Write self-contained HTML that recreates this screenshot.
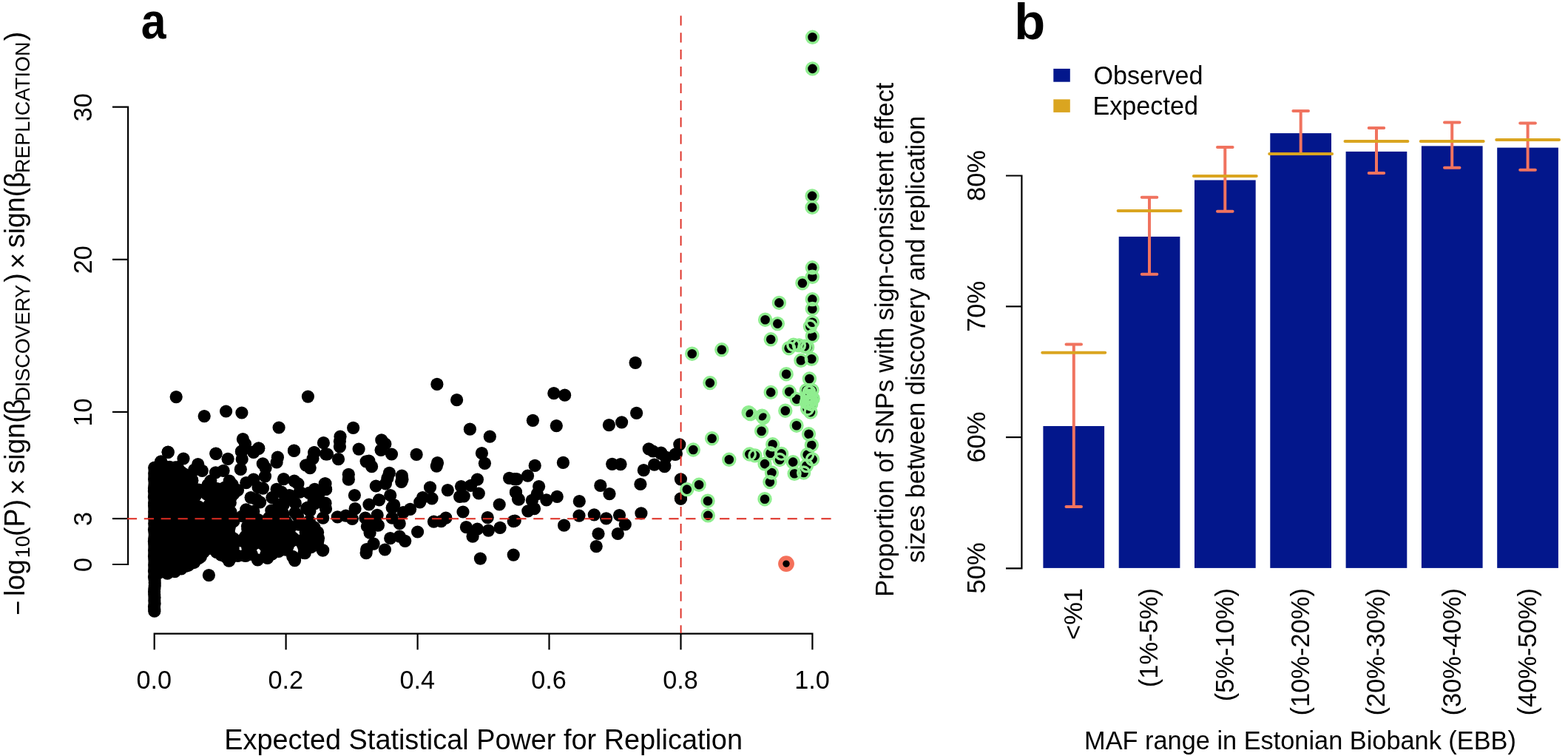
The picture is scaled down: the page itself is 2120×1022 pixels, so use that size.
<!DOCTYPE html>
<html lang="en"><head><meta charset="utf-8"><title>Figure</title>
<style>html,body{margin:0;padding:0;background:#fff}body{width:2120px;height:1022px;overflow:hidden}svg{display:block}text{font-family:"Liberation Sans",Arial,Helvetica,sans-serif;fill:#000}</style>
</head><body>
<svg width="2120" height="1022" viewBox="0 0 2120 1022">
<rect width="2120" height="1022" fill="#fff"/>
<g id="panel-a">
<g stroke="#000" stroke-width="2.2" fill="none" stroke-linecap="butt" stroke-linejoin="miter">
<path d="M152 144.7H173.1V763.0H152"/>
<path d="M152 701.1H173.1"/>
<path d="M152 556.9H173.1"/>
<path d="M152 350.8H173.1"/>
<path d="M208.7 878.3V856.7H1098.4V878.3"/>
<path d="M386.6 856.7V878.3"/>
<path d="M564.6 856.7V878.3"/>
<path d="M742.5 856.7V878.3"/>
<path d="M920.5 856.7V878.3"/>
</g>
<g font-size="34.2" text-anchor="middle">
<text transform="translate(208.3 931.1) scale(1.000 1.040)">0.0</text>
<text transform="translate(386.2 931.1) scale(1.000 1.040)">0.2</text>
<text transform="translate(564.2 931.1) scale(1.000 1.040)">0.4</text>
<text transform="translate(742.1 931.1) scale(1.000 1.040)">0.6</text>
<text transform="translate(920.1 931.1) scale(1.000 1.040)">0.8</text>
<text transform="translate(1098.0 931.1) scale(1.000 1.040)">1.0</text>
<text transform="translate(124.1 763.5) rotate(-90) scale(1.000 1.040)">0</text>
<text transform="translate(124.1 701.6) rotate(-90) scale(1.000 1.040)">3</text>
<text transform="translate(124.1 557.4) rotate(-90) scale(1.000 1.040)">10</text>
<text transform="translate(124.1 351.3) rotate(-90) scale(1.000 1.040)">20</text>
<text transform="translate(124.1 145.2) rotate(-90) scale(1.000 1.040)">30</text>
</g>
<text transform="translate(653.6 1013.4) scale(1.000 1.000)" font-size="37.86" text-anchor="middle">Expected Statistical Power for Replication</text>
<g id="ylab-a">
<text transform="translate(36.7 831.7) rotate(-90) scale(0.912 1.015)" font-size="37.50">−</text>
<text transform="translate(32.9 806.1) rotate(-90) scale(1.000 1.015)" font-size="37.50">log</text>
<text transform="translate(39.9 754.3) rotate(-90) scale(1.000 1.030)" font-size="26.90">10</text>
<text transform="translate(32.9 725.1) rotate(-90) scale(1.000 1.015)" font-size="37.50">(P)</text>
<text transform="translate(36.7 669.3) rotate(-90) scale(1.000 1.015)" font-size="37.50">×</text>
<text transform="translate(32.9 640.6) rotate(-90) scale(1.000 1.015)" font-size="37.50">sign(</text>
<text transform="translate(32.9 560.7) rotate(-90) scale(1.000 1.015)" font-size="37.50">β</text>
<text transform="translate(39.9 542.6) rotate(-90) scale(1.000 1.030)" font-size="26.90">DISCOVERY</text>
<text transform="translate(32.9 381.8) rotate(-90) scale(1.000 1.015)" font-size="37.50">)</text>
<text transform="translate(36.7 363.5) rotate(-90) scale(1.000 1.015)" font-size="37.50">×</text>
<text transform="translate(32.9 335.1) rotate(-90) scale(1.000 1.015)" font-size="37.50">sign(</text>
<text transform="translate(32.9 254.1) rotate(-90) scale(1.000 1.015)" font-size="37.50">β</text>
<text transform="translate(39.9 234.0) rotate(-90) scale(1.000 1.030)" font-size="26.90">REPLICATION</text>
<text transform="translate(32.9 55.3) rotate(-90) scale(1.000 1.015)" font-size="37.50">)</text>
</g>
<text transform="translate(190.8 52.2) scale(0.925 1.035)" font-size="65.70" font-weight="bold">a</text>
<g fill="#000">
<circle cx="213.9" cy="630.9" r="8.6"/><circle cx="220.4" cy="630.1" r="8.6"/><circle cx="223.0" cy="630.7" r="8.6"/><circle cx="229.5" cy="631.3" r="8.6"/><circle cx="236.8" cy="631.8" r="8.6"/><circle cx="240.1" cy="631.5" r="8.6"/><circle cx="210.6" cy="637.2" r="8.6"/><circle cx="213.3" cy="636.6" r="8.6"/><circle cx="221.6" cy="637.1" r="8.6"/><circle cx="226.0" cy="635.9" r="8.6"/><circle cx="228.7" cy="637.2" r="8.6"/><circle cx="234.3" cy="637.2" r="8.6"/><circle cx="241.9" cy="635.6" r="8.6"/><circle cx="244.6" cy="637.8" r="8.6"/><circle cx="216.1" cy="642.6" r="8.6"/><circle cx="218.6" cy="641.9" r="8.6"/><circle cx="225.6" cy="639.6" r="8.6"/><circle cx="231.5" cy="642.9" r="8.6"/><circle cx="233.9" cy="642.8" r="8.6"/><circle cx="239.6" cy="640.9" r="8.6"/><circle cx="247.0" cy="642.3" r="8.6"/><circle cx="248.6" cy="640.7" r="8.6"/><circle cx="210.8" cy="646.5" r="8.6"/><circle cx="214.6" cy="645.4" r="8.6"/><circle cx="218.2" cy="644.5" r="8.6"/><circle cx="223.3" cy="647.0" r="8.6"/><circle cx="229.0" cy="644.7" r="8.6"/><circle cx="233.3" cy="647.4" r="8.6"/><circle cx="241.5" cy="646.7" r="8.6"/><circle cx="244.1" cy="645.0" r="8.6"/><circle cx="249.2" cy="645.8" r="8.6"/><circle cx="253.6" cy="645.8" r="8.6"/><circle cx="259.1" cy="647.8" r="8.6"/><circle cx="209.9" cy="651.7" r="8.6"/><circle cx="216.1" cy="651.5" r="8.6"/><circle cx="220.6" cy="649.3" r="8.6"/><circle cx="223.6" cy="650.0" r="8.6"/><circle cx="231.0" cy="650.2" r="8.6"/><circle cx="235.3" cy="649.0" r="8.6"/><circle cx="238.2" cy="650.1" r="8.6"/><circle cx="245.7" cy="651.8" r="8.6"/><circle cx="250.7" cy="650.2" r="8.6"/><circle cx="255.1" cy="650.9" r="8.6"/><circle cx="259.9" cy="649.5" r="8.6"/><circle cx="284.8" cy="650.1" r="8.6"/><circle cx="209.9" cy="655.4" r="8.6"/><circle cx="214.2" cy="657.0" r="8.6"/><circle cx="221.9" cy="655.0" r="8.6"/><circle cx="225.6" cy="655.2" r="8.6"/><circle cx="230.2" cy="655.6" r="8.6"/><circle cx="233.7" cy="654.6" r="8.6"/><circle cx="238.8" cy="657.6" r="8.6"/><circle cx="245.0" cy="654.9" r="8.6"/><circle cx="251.6" cy="658.0" r="8.6"/><circle cx="254.8" cy="654.6" r="8.6"/><circle cx="258.8" cy="654.4" r="8.6"/><circle cx="281.0" cy="655.7" r="8.6"/><circle cx="284.7" cy="656.1" r="8.6"/><circle cx="311.5" cy="654.9" r="8.6"/><circle cx="314.1" cy="655.0" r="8.6"/><circle cx="211.8" cy="661.8" r="8.6"/><circle cx="214.2" cy="659.1" r="8.6"/><circle cx="220.0" cy="661.7" r="8.6"/><circle cx="224.7" cy="660.0" r="8.6"/><circle cx="230.7" cy="662.7" r="8.6"/><circle cx="233.9" cy="659.1" r="8.6"/><circle cx="239.4" cy="660.7" r="8.6"/><circle cx="245.7" cy="659.8" r="8.6"/><circle cx="251.2" cy="662.0" r="8.6"/><circle cx="255.0" cy="659.8" r="8.6"/><circle cx="261.9" cy="660.2" r="8.6"/><circle cx="268.9" cy="662.0" r="8.6"/><circle cx="274.2" cy="662.8" r="8.6"/><circle cx="280.0" cy="659.7" r="8.6"/><circle cx="283.9" cy="660.7" r="8.6"/><circle cx="290.7" cy="662.8" r="8.6"/><circle cx="293.6" cy="660.6" r="8.6"/><circle cx="298.9" cy="662.9" r="8.6"/><circle cx="303.6" cy="659.2" r="8.6"/><circle cx="308.2" cy="660.6" r="8.6"/><circle cx="316.6" cy="662.5" r="8.6"/><circle cx="211.8" cy="664.1" r="8.6"/><circle cx="213.9" cy="665.9" r="8.6"/><circle cx="221.8" cy="667.8" r="8.6"/><circle cx="224.5" cy="665.0" r="8.6"/><circle cx="229.7" cy="666.0" r="8.6"/><circle cx="236.7" cy="664.7" r="8.6"/><circle cx="241.2" cy="667.0" r="8.6"/><circle cx="246.3" cy="667.1" r="8.6"/><circle cx="250.4" cy="665.3" r="8.6"/><circle cx="254.3" cy="665.4" r="8.6"/><circle cx="261.1" cy="664.3" r="8.6"/><circle cx="263.8" cy="667.0" r="8.6"/><circle cx="269.0" cy="664.3" r="8.6"/><circle cx="279.3" cy="667.9" r="8.6"/><circle cx="286.5" cy="668.0" r="8.6"/><circle cx="289.1" cy="664.3" r="8.6"/><circle cx="293.4" cy="666.0" r="8.6"/><circle cx="300.8" cy="665.8" r="8.6"/><circle cx="303.9" cy="665.7" r="8.6"/><circle cx="310.5" cy="666.7" r="8.6"/><circle cx="316.0" cy="667.4" r="8.6"/><circle cx="209.2" cy="669.8" r="8.6"/><circle cx="216.2" cy="671.2" r="8.6"/><circle cx="218.3" cy="669.4" r="8.6"/><circle cx="224.6" cy="671.2" r="8.6"/><circle cx="230.6" cy="669.4" r="8.6"/><circle cx="233.7" cy="671.8" r="8.6"/><circle cx="239.6" cy="670.1" r="8.6"/><circle cx="244.2" cy="672.8" r="8.6"/><circle cx="249.2" cy="671.3" r="8.6"/><circle cx="254.4" cy="670.7" r="8.6"/><circle cx="261.5" cy="673.0" r="8.6"/><circle cx="264.5" cy="669.8" r="8.6"/><circle cx="284.6" cy="672.5" r="8.6"/><circle cx="289.8" cy="669.7" r="8.6"/><circle cx="293.1" cy="671.2" r="8.6"/><circle cx="300.6" cy="672.6" r="8.6"/><circle cx="303.4" cy="671.5" r="8.6"/><circle cx="309.5" cy="671.0" r="8.6"/><circle cx="313.6" cy="670.1" r="8.6"/><circle cx="209.8" cy="674.7" r="8.6"/><circle cx="214.9" cy="674.4" r="8.6"/><circle cx="218.5" cy="675.7" r="8.6"/><circle cx="223.4" cy="675.8" r="8.6"/><circle cx="230.0" cy="674.2" r="8.6"/><circle cx="235.5" cy="674.3" r="8.6"/><circle cx="240.9" cy="677.1" r="8.6"/><circle cx="245.0" cy="674.2" r="8.6"/><circle cx="250.0" cy="675.5" r="8.6"/><circle cx="256.8" cy="674.5" r="8.6"/><circle cx="261.4" cy="678.0" r="8.6"/><circle cx="286.2" cy="677.7" r="8.6"/><circle cx="288.3" cy="675.4" r="8.6"/><circle cx="296.0" cy="674.6" r="8.6"/><circle cx="301.6" cy="675.1" r="8.6"/><circle cx="306.3" cy="674.6" r="8.6"/><circle cx="310.0" cy="677.7" r="8.6"/><circle cx="215.4" cy="679.8" r="8.6"/><circle cx="220.5" cy="680.9" r="8.6"/><circle cx="223.5" cy="682.7" r="8.6"/><circle cx="229.0" cy="679.6" r="8.6"/><circle cx="233.4" cy="681.6" r="8.6"/><circle cx="241.5" cy="682.1" r="8.6"/><circle cx="244.6" cy="680.1" r="8.6"/><circle cx="248.0" cy="681.6" r="8.6"/><circle cx="255.2" cy="680.4" r="8.6"/><circle cx="260.6" cy="680.8" r="8.6"/><circle cx="283.2" cy="682.1" r="8.6"/><circle cx="288.0" cy="681.2" r="8.6"/><circle cx="296.8" cy="679.6" r="8.6"/><circle cx="298.8" cy="681.4" r="8.6"/><circle cx="305.0" cy="681.6" r="8.6"/><circle cx="311.3" cy="679.7" r="8.6"/><circle cx="213.6" cy="684.1" r="8.6"/><circle cx="218.4" cy="687.7" r="8.6"/><circle cx="224.4" cy="684.6" r="8.6"/><circle cx="228.1" cy="684.2" r="8.6"/><circle cx="235.8" cy="686.5" r="8.6"/><circle cx="240.8" cy="686.9" r="8.6"/><circle cx="243.3" cy="686.4" r="8.6"/><circle cx="249.5" cy="687.3" r="8.6"/><circle cx="256.3" cy="687.6" r="8.6"/><circle cx="258.3" cy="687.5" r="8.6"/><circle cx="266.7" cy="687.8" r="8.6"/><circle cx="268.4" cy="684.8" r="8.6"/><circle cx="281.4" cy="687.2" r="8.6"/><circle cx="285.5" cy="687.3" r="8.6"/><circle cx="290.5" cy="685.1" r="8.6"/><circle cx="293.4" cy="684.4" r="8.6"/><circle cx="301.0" cy="684.8" r="8.6"/><circle cx="304.3" cy="685.7" r="8.6"/><circle cx="308.1" cy="685.0" r="8.6"/><circle cx="209.5" cy="692.5" r="8.6"/><circle cx="213.9" cy="690.8" r="8.6"/><circle cx="220.1" cy="692.0" r="8.6"/><circle cx="226.0" cy="691.6" r="8.6"/><circle cx="229.4" cy="690.3" r="8.6"/><circle cx="233.6" cy="692.4" r="8.6"/><circle cx="240.6" cy="692.0" r="8.6"/><circle cx="243.7" cy="690.8" r="8.6"/><circle cx="251.1" cy="691.3" r="8.6"/><circle cx="253.5" cy="690.8" r="8.6"/><circle cx="261.5" cy="690.0" r="8.6"/><circle cx="263.8" cy="690.2" r="8.6"/><circle cx="270.8" cy="692.4" r="8.6"/><circle cx="273.6" cy="689.6" r="8.6"/><circle cx="279.0" cy="690.3" r="8.6"/><circle cx="285.1" cy="689.6" r="8.6"/><circle cx="289.3" cy="689.8" r="8.6"/><circle cx="296.9" cy="691.9" r="8.6"/><circle cx="298.4" cy="692.8" r="8.6"/><circle cx="303.4" cy="690.5" r="8.6"/><circle cx="311.9" cy="692.2" r="8.6"/><circle cx="211.8" cy="696.1" r="8.6"/><circle cx="213.4" cy="696.3" r="8.6"/><circle cx="220.2" cy="696.9" r="8.6"/><circle cx="225.0" cy="696.6" r="8.6"/><circle cx="231.3" cy="696.1" r="8.6"/><circle cx="234.6" cy="697.8" r="8.6"/><circle cx="238.8" cy="696.7" r="8.6"/><circle cx="244.6" cy="697.1" r="8.6"/><circle cx="248.5" cy="697.9" r="8.6"/><circle cx="254.4" cy="694.2" r="8.6"/><circle cx="259.1" cy="695.6" r="8.6"/><circle cx="263.1" cy="695.7" r="8.6"/><circle cx="269.7" cy="696.8" r="8.6"/><circle cx="274.4" cy="695.1" r="8.6"/><circle cx="278.9" cy="697.0" r="8.6"/><circle cx="286.8" cy="696.1" r="8.6"/><circle cx="288.9" cy="697.2" r="8.6"/><circle cx="294.6" cy="694.8" r="8.6"/><circle cx="298.5" cy="697.1" r="8.6"/><circle cx="306.2" cy="696.5" r="8.6"/><circle cx="309.9" cy="696.2" r="8.6"/><circle cx="313.9" cy="697.9" r="8.6"/><circle cx="211.2" cy="702.4" r="8.6"/><circle cx="213.8" cy="701.8" r="8.6"/><circle cx="220.1" cy="702.0" r="8.6"/><circle cx="224.8" cy="702.5" r="8.6"/><circle cx="230.2" cy="700.1" r="8.6"/><circle cx="233.9" cy="699.6" r="8.6"/><circle cx="240.0" cy="699.2" r="8.6"/><circle cx="244.9" cy="699.6" r="8.6"/><circle cx="250.0" cy="701.0" r="8.6"/><circle cx="255.2" cy="702.5" r="8.6"/><circle cx="258.0" cy="702.4" r="8.6"/><circle cx="264.9" cy="701.3" r="8.6"/><circle cx="270.7" cy="702.4" r="8.6"/><circle cx="274.5" cy="700.7" r="8.6"/><circle cx="281.8" cy="699.3" r="8.6"/><circle cx="285.5" cy="701.5" r="8.6"/><circle cx="288.1" cy="701.4" r="8.6"/><circle cx="295.7" cy="702.7" r="8.6"/><circle cx="299.3" cy="702.9" r="8.6"/><circle cx="305.0" cy="700.9" r="8.6"/><circle cx="311.6" cy="699.1" r="8.6"/><circle cx="315.9" cy="701.5" r="8.6"/><circle cx="210.6" cy="705.5" r="8.6"/><circle cx="216.3" cy="707.1" r="8.6"/><circle cx="220.2" cy="705.0" r="8.6"/><circle cx="224.2" cy="705.7" r="8.6"/><circle cx="229.3" cy="705.7" r="8.6"/><circle cx="235.6" cy="707.7" r="8.6"/><circle cx="238.2" cy="706.3" r="8.6"/><circle cx="243.2" cy="704.5" r="8.6"/><circle cx="251.2" cy="706.3" r="8.6"/><circle cx="256.7" cy="705.8" r="8.6"/><circle cx="258.1" cy="705.5" r="8.6"/><circle cx="265.4" cy="707.8" r="8.6"/><circle cx="271.9" cy="705.9" r="8.6"/><circle cx="274.6" cy="704.4" r="8.6"/><circle cx="280.6" cy="704.8" r="8.6"/><circle cx="283.6" cy="704.1" r="8.6"/><circle cx="288.0" cy="706.7" r="8.6"/><circle cx="293.5" cy="707.9" r="8.6"/><circle cx="298.4" cy="707.5" r="8.6"/><circle cx="303.5" cy="704.1" r="8.6"/><circle cx="310.9" cy="705.0" r="8.6"/><circle cx="315.9" cy="704.7" r="8.6"/><circle cx="210.4" cy="712.6" r="8.6"/><circle cx="216.2" cy="710.1" r="8.6"/><circle cx="218.0" cy="710.1" r="8.6"/><circle cx="224.7" cy="711.3" r="8.6"/><circle cx="231.3" cy="712.5" r="8.6"/><circle cx="233.2" cy="712.3" r="8.6"/><circle cx="241.2" cy="712.5" r="8.6"/><circle cx="245.3" cy="710.1" r="8.6"/><circle cx="251.4" cy="712.2" r="8.6"/><circle cx="255.7" cy="712.7" r="8.6"/><circle cx="259.4" cy="709.3" r="8.6"/><circle cx="265.2" cy="712.2" r="8.6"/><circle cx="268.8" cy="712.0" r="8.6"/><circle cx="276.7" cy="709.9" r="8.6"/><circle cx="280.4" cy="711.7" r="8.6"/><circle cx="284.9" cy="709.8" r="8.6"/><circle cx="289.0" cy="712.0" r="8.6"/><circle cx="296.2" cy="710.8" r="8.6"/><circle cx="298.4" cy="712.2" r="8.6"/><circle cx="306.1" cy="709.9" r="8.6"/><circle cx="310.3" cy="712.6" r="8.6"/><circle cx="334.5" cy="711.3" r="8.6"/><circle cx="339.6" cy="711.1" r="8.6"/><circle cx="343.6" cy="709.2" r="8.6"/><circle cx="352.0" cy="710.5" r="8.6"/><circle cx="353.4" cy="711.5" r="8.6"/><circle cx="361.1" cy="709.6" r="8.6"/><circle cx="365.4" cy="710.4" r="8.6"/><circle cx="370.1" cy="709.1" r="8.6"/><circle cx="373.1" cy="713.0" r="8.6"/><circle cx="381.5" cy="710.9" r="8.6"/><circle cx="385.3" cy="710.0" r="8.6"/><circle cx="391.1" cy="710.7" r="8.6"/><circle cx="404.0" cy="709.2" r="8.6"/><circle cx="408.8" cy="709.7" r="8.6"/><circle cx="413.3" cy="709.2" r="8.6"/><circle cx="420.2" cy="712.5" r="8.6"/><circle cx="424.8" cy="712.8" r="8.6"/><circle cx="210.7" cy="715.6" r="8.6"/><circle cx="214.8" cy="714.6" r="8.6"/><circle cx="221.9" cy="718.0" r="8.6"/><circle cx="223.9" cy="714.2" r="8.6"/><circle cx="229.0" cy="715.4" r="8.6"/><circle cx="236.6" cy="717.6" r="8.6"/><circle cx="241.3" cy="714.2" r="8.6"/><circle cx="246.1" cy="716.8" r="8.6"/><circle cx="250.6" cy="717.9" r="8.6"/><circle cx="253.2" cy="714.6" r="8.6"/><circle cx="261.0" cy="717.8" r="8.6"/><circle cx="265.7" cy="715.2" r="8.6"/><circle cx="270.4" cy="717.0" r="8.6"/><circle cx="273.4" cy="715.3" r="8.6"/><circle cx="279.0" cy="714.5" r="8.6"/><circle cx="284.9" cy="714.7" r="8.6"/><circle cx="289.0" cy="714.6" r="8.6"/><circle cx="295.7" cy="714.1" r="8.6"/><circle cx="300.9" cy="714.8" r="8.6"/><circle cx="303.1" cy="717.7" r="8.6"/><circle cx="308.9" cy="717.7" r="8.6"/><circle cx="334.8" cy="715.4" r="8.6"/><circle cx="341.3" cy="715.9" r="8.6"/><circle cx="345.5" cy="714.6" r="8.6"/><circle cx="348.9" cy="714.2" r="8.6"/><circle cx="355.9" cy="716.2" r="8.6"/><circle cx="358.6" cy="717.5" r="8.6"/><circle cx="364.1" cy="715.6" r="8.6"/><circle cx="368.6" cy="715.1" r="8.6"/><circle cx="376.4" cy="715.3" r="8.6"/><circle cx="378.7" cy="716.0" r="8.6"/><circle cx="384.3" cy="717.6" r="8.6"/><circle cx="388.5" cy="717.9" r="8.6"/><circle cx="414.5" cy="718.0" r="8.6"/><circle cx="422.0" cy="717.7" r="8.6"/><circle cx="423.4" cy="715.2" r="8.6"/><circle cx="211.3" cy="721.1" r="8.6"/><circle cx="213.7" cy="720.7" r="8.6"/><circle cx="221.6" cy="719.9" r="8.6"/><circle cx="225.3" cy="719.6" r="8.6"/><circle cx="228.7" cy="722.1" r="8.6"/><circle cx="235.8" cy="719.8" r="8.6"/><circle cx="238.3" cy="719.3" r="8.6"/><circle cx="245.4" cy="721.0" r="8.6"/><circle cx="249.1" cy="719.8" r="8.6"/><circle cx="255.4" cy="721.8" r="8.6"/><circle cx="261.2" cy="721.3" r="8.6"/><circle cx="263.8" cy="719.3" r="8.6"/><circle cx="270.9" cy="720.6" r="8.6"/><circle cx="275.9" cy="719.2" r="8.6"/><circle cx="281.2" cy="720.3" r="8.6"/><circle cx="286.4" cy="722.5" r="8.6"/><circle cx="290.0" cy="719.1" r="8.6"/><circle cx="296.6" cy="720.9" r="8.6"/><circle cx="301.5" cy="720.1" r="8.6"/><circle cx="303.7" cy="722.3" r="8.6"/><circle cx="309.5" cy="719.7" r="8.6"/><circle cx="336.3" cy="722.5" r="8.6"/><circle cx="339.3" cy="721.8" r="8.6"/><circle cx="344.5" cy="722.0" r="8.6"/><circle cx="348.2" cy="722.5" r="8.6"/><circle cx="356.8" cy="721.0" r="8.6"/><circle cx="360.1" cy="721.1" r="8.6"/><circle cx="365.1" cy="719.1" r="8.6"/><circle cx="371.9" cy="719.9" r="8.6"/><circle cx="373.7" cy="719.4" r="8.6"/><circle cx="379.0" cy="722.3" r="8.6"/><circle cx="383.1" cy="719.4" r="8.6"/><circle cx="390.8" cy="719.8" r="8.6"/><circle cx="413.2" cy="719.5" r="8.6"/><circle cx="420.0" cy="721.0" r="8.6"/><circle cx="424.1" cy="719.5" r="8.6"/><circle cx="429.6" cy="719.5" r="8.6"/><circle cx="209.6" cy="725.7" r="8.6"/><circle cx="216.4" cy="726.1" r="8.6"/><circle cx="219.6" cy="727.8" r="8.6"/><circle cx="226.1" cy="725.4" r="8.6"/><circle cx="229.0" cy="725.3" r="8.6"/><circle cx="234.7" cy="727.9" r="8.6"/><circle cx="241.2" cy="727.7" r="8.6"/><circle cx="246.3" cy="727.4" r="8.6"/><circle cx="248.2" cy="726.1" r="8.6"/><circle cx="256.8" cy="727.7" r="8.6"/><circle cx="259.0" cy="725.7" r="8.6"/><circle cx="265.5" cy="725.5" r="8.6"/><circle cx="270.1" cy="724.3" r="8.6"/><circle cx="274.7" cy="726.0" r="8.6"/><circle cx="278.1" cy="724.6" r="8.6"/><circle cx="286.9" cy="727.1" r="8.6"/><circle cx="291.7" cy="726.5" r="8.6"/><circle cx="296.2" cy="727.5" r="8.6"/><circle cx="301.5" cy="724.1" r="8.6"/><circle cx="305.6" cy="725.1" r="8.6"/><circle cx="310.7" cy="725.1" r="8.6"/><circle cx="315.2" cy="727.7" r="8.6"/><circle cx="331.8" cy="725.2" r="8.6"/><circle cx="334.2" cy="726.6" r="8.6"/><circle cx="338.5" cy="726.4" r="8.6"/><circle cx="346.8" cy="726.1" r="8.6"/><circle cx="349.1" cy="725.9" r="8.6"/><circle cx="355.1" cy="724.6" r="8.6"/><circle cx="358.5" cy="724.5" r="8.6"/><circle cx="364.2" cy="725.6" r="8.6"/><circle cx="369.2" cy="725.0" r="8.6"/><circle cx="373.4" cy="726.2" r="8.6"/><circle cx="381.4" cy="726.4" r="8.6"/><circle cx="385.3" cy="726.6" r="8.6"/><circle cx="388.8" cy="726.8" r="8.6"/><circle cx="394.8" cy="726.2" r="8.6"/><circle cx="414.5" cy="726.3" r="8.6"/><circle cx="418.0" cy="725.4" r="8.6"/><circle cx="426.4" cy="725.0" r="8.6"/><circle cx="214.8" cy="731.9" r="8.6"/><circle cx="218.4" cy="729.9" r="8.6"/><circle cx="226.8" cy="732.0" r="8.6"/><circle cx="228.6" cy="730.3" r="8.6"/><circle cx="234.4" cy="731.7" r="8.6"/><circle cx="240.5" cy="732.4" r="8.6"/><circle cx="246.3" cy="731.1" r="8.6"/><circle cx="251.0" cy="732.0" r="8.6"/><circle cx="256.0" cy="730.9" r="8.6"/><circle cx="261.1" cy="731.8" r="8.6"/><circle cx="266.7" cy="729.5" r="8.6"/><circle cx="271.5" cy="729.0" r="8.6"/><circle cx="276.1" cy="731.3" r="8.6"/><circle cx="280.0" cy="732.9" r="8.6"/><circle cx="285.3" cy="730.7" r="8.6"/><circle cx="291.1" cy="732.5" r="8.6"/><circle cx="295.4" cy="730.5" r="8.6"/><circle cx="299.8" cy="730.8" r="8.6"/><circle cx="305.9" cy="730.2" r="8.6"/><circle cx="309.6" cy="731.2" r="8.6"/><circle cx="314.5" cy="730.3" r="8.6"/><circle cx="325.0" cy="730.8" r="8.6"/><circle cx="328.7" cy="730.2" r="8.6"/><circle cx="333.6" cy="731.3" r="8.6"/><circle cx="340.3" cy="729.4" r="8.6"/><circle cx="346.7" cy="730.3" r="8.6"/><circle cx="351.4" cy="732.4" r="8.6"/><circle cx="356.8" cy="729.8" r="8.6"/><circle cx="359.7" cy="732.6" r="8.6"/><circle cx="363.0" cy="729.2" r="8.6"/><circle cx="370.3" cy="731.0" r="8.6"/><circle cx="376.7" cy="732.1" r="8.6"/><circle cx="380.2" cy="733.0" r="8.6"/><circle cx="385.1" cy="731.1" r="8.6"/><circle cx="390.7" cy="730.6" r="8.6"/><circle cx="394.4" cy="731.4" r="8.6"/><circle cx="405.7" cy="731.1" r="8.6"/><circle cx="408.4" cy="730.5" r="8.6"/><circle cx="414.6" cy="731.2" r="8.6"/><circle cx="420.3" cy="732.5" r="8.6"/><circle cx="426.9" cy="730.9" r="8.6"/><circle cx="429.8" cy="731.5" r="8.6"/><circle cx="210.1" cy="734.4" r="8.6"/><circle cx="216.6" cy="736.8" r="8.6"/><circle cx="221.3" cy="738.0" r="8.6"/><circle cx="226.6" cy="735.7" r="8.6"/><circle cx="228.6" cy="735.2" r="8.6"/><circle cx="235.0" cy="736.0" r="8.6"/><circle cx="238.8" cy="734.7" r="8.6"/><circle cx="245.5" cy="736.4" r="8.6"/><circle cx="249.4" cy="738.0" r="8.6"/><circle cx="255.5" cy="734.2" r="8.6"/><circle cx="259.6" cy="737.2" r="8.6"/><circle cx="264.2" cy="736.8" r="8.6"/><circle cx="268.0" cy="735.2" r="8.6"/><circle cx="276.4" cy="736.3" r="8.6"/><circle cx="280.7" cy="734.8" r="8.6"/><circle cx="285.0" cy="736.2" r="8.6"/><circle cx="289.1" cy="736.6" r="8.6"/><circle cx="295.1" cy="738.0" r="8.6"/><circle cx="300.3" cy="735.6" r="8.6"/><circle cx="303.5" cy="734.6" r="8.6"/><circle cx="311.0" cy="734.4" r="8.6"/><circle cx="313.4" cy="734.7" r="8.6"/><circle cx="336.1" cy="735.3" r="8.6"/><circle cx="340.9" cy="735.4" r="8.6"/><circle cx="343.7" cy="735.1" r="8.6"/><circle cx="355.3" cy="735.4" r="8.6"/><circle cx="359.8" cy="735.5" r="8.6"/><circle cx="363.2" cy="737.6" r="8.6"/><circle cx="370.3" cy="737.8" r="8.6"/><circle cx="374.8" cy="736.5" r="8.6"/><circle cx="379.0" cy="734.2" r="8.6"/><circle cx="386.7" cy="737.4" r="8.6"/><circle cx="389.3" cy="737.6" r="8.6"/><circle cx="409.0" cy="735.6" r="8.6"/><circle cx="415.9" cy="734.9" r="8.6"/><circle cx="419.2" cy="737.5" r="8.6"/><circle cx="424.9" cy="737.2" r="8.6"/><circle cx="429.0" cy="734.7" r="8.6"/><circle cx="209.6" cy="739.3" r="8.6"/><circle cx="213.5" cy="742.3" r="8.6"/><circle cx="219.4" cy="740.0" r="8.6"/><circle cx="223.8" cy="740.1" r="8.6"/><circle cx="228.9" cy="739.1" r="8.6"/><circle cx="235.7" cy="740.4" r="8.6"/><circle cx="238.6" cy="741.8" r="8.6"/><circle cx="243.4" cy="740.1" r="8.6"/><circle cx="251.3" cy="739.5" r="8.6"/><circle cx="254.8" cy="742.3" r="8.6"/><circle cx="261.2" cy="739.6" r="8.6"/><circle cx="264.4" cy="741.9" r="8.6"/><circle cx="269.5" cy="742.8" r="8.6"/><circle cx="273.8" cy="742.8" r="8.6"/><circle cx="280.0" cy="739.9" r="8.6"/><circle cx="284.8" cy="739.5" r="8.6"/><circle cx="290.8" cy="740.0" r="8.6"/><circle cx="296.6" cy="741.4" r="8.6"/><circle cx="299.5" cy="740.0" r="8.6"/><circle cx="305.4" cy="739.9" r="8.6"/><circle cx="311.5" cy="739.5" r="8.6"/><circle cx="315.1" cy="741.2" r="8.6"/><circle cx="334.6" cy="739.3" r="8.6"/><circle cx="338.7" cy="742.4" r="8.6"/><circle cx="359.2" cy="739.3" r="8.6"/><circle cx="364.2" cy="739.9" r="8.6"/><circle cx="368.5" cy="741.9" r="8.6"/><circle cx="374.1" cy="740.6" r="8.6"/><circle cx="381.6" cy="742.1" r="8.6"/><circle cx="386.5" cy="742.4" r="8.6"/><circle cx="388.5" cy="740.1" r="8.6"/><circle cx="410.8" cy="740.0" r="8.6"/><circle cx="416.4" cy="740.4" r="8.6"/><circle cx="420.5" cy="739.7" r="8.6"/><circle cx="210.6" cy="744.7" r="8.6"/><circle cx="216.4" cy="746.3" r="8.6"/><circle cx="220.9" cy="745.0" r="8.6"/><circle cx="224.7" cy="746.7" r="8.6"/><circle cx="229.4" cy="744.0" r="8.6"/><circle cx="236.3" cy="747.1" r="8.6"/><circle cx="239.1" cy="744.2" r="8.6"/><circle cx="246.4" cy="746.4" r="8.6"/><circle cx="248.2" cy="745.0" r="8.6"/><circle cx="253.4" cy="747.2" r="8.6"/><circle cx="258.8" cy="747.7" r="8.6"/><circle cx="266.0" cy="744.3" r="8.6"/><circle cx="270.8" cy="745.6" r="8.6"/><circle cx="296.0" cy="747.3" r="8.6"/><circle cx="300.5" cy="745.8" r="8.6"/><circle cx="303.2" cy="746.8" r="8.6"/><circle cx="309.7" cy="746.0" r="8.6"/><circle cx="336.9" cy="746.6" r="8.6"/><circle cx="360.8" cy="746.7" r="8.6"/><circle cx="364.0" cy="745.0" r="8.6"/><circle cx="370.1" cy="745.8" r="8.6"/><circle cx="376.7" cy="745.4" r="8.6"/><circle cx="411.1" cy="747.3" r="8.6"/><circle cx="212.0" cy="752.0" r="8.6"/><circle cx="213.3" cy="751.9" r="8.6"/><circle cx="221.9" cy="751.3" r="8.6"/><circle cx="223.4" cy="751.0" r="8.6"/><circle cx="229.7" cy="749.8" r="8.6"/><circle cx="235.2" cy="749.0" r="8.6"/><circle cx="241.7" cy="751.6" r="8.6"/><circle cx="245.5" cy="752.7" r="8.6"/><circle cx="250.6" cy="750.0" r="8.6"/><circle cx="254.0" cy="749.6" r="8.6"/><circle cx="258.1" cy="752.1" r="8.6"/><circle cx="266.4" cy="750.2" r="8.6"/><circle cx="268.7" cy="751.6" r="8.6"/><circle cx="304.5" cy="752.3" r="8.6"/><circle cx="309.0" cy="749.2" r="8.6"/><circle cx="315.3" cy="751.5" r="8.6"/><circle cx="330.0" cy="751.0" r="8.6"/><circle cx="333.6" cy="750.2" r="8.6"/><circle cx="340.3" cy="749.3" r="8.6"/><circle cx="359.8" cy="749.8" r="8.6"/><circle cx="365.9" cy="749.0" r="8.6"/><circle cx="395.7" cy="752.3" r="8.6"/><circle cx="211.8" cy="755.9" r="8.6"/><circle cx="215.6" cy="755.2" r="8.6"/><circle cx="219.4" cy="757.5" r="8.6"/><circle cx="223.1" cy="754.8" r="8.6"/><circle cx="230.7" cy="755.8" r="8.6"/><circle cx="233.3" cy="756.6" r="8.6"/><circle cx="239.5" cy="756.3" r="8.6"/><circle cx="244.7" cy="756.1" r="8.6"/><circle cx="250.3" cy="755.6" r="8.6"/><circle cx="253.5" cy="754.7" r="8.6"/><circle cx="261.6" cy="756.2" r="8.6"/><circle cx="263.4" cy="757.4" r="8.6"/><circle cx="269.0" cy="754.4" r="8.6"/><circle cx="310.2" cy="756.9" r="8.6"/><circle cx="398.5" cy="755.5" r="8.6"/><circle cx="214.2" cy="761.7" r="8.6"/><circle cx="219.5" cy="759.6" r="8.6"/><circle cx="226.5" cy="761.2" r="8.6"/><circle cx="230.8" cy="762.2" r="8.6"/><circle cx="236.8" cy="759.1" r="8.6"/><circle cx="239.4" cy="759.6" r="8.6"/><circle cx="245.0" cy="762.5" r="8.6"/><circle cx="251.2" cy="759.1" r="8.6"/><circle cx="253.7" cy="762.3" r="8.6"/><circle cx="260.7" cy="760.6" r="8.6"/><circle cx="210.9" cy="766.2" r="8.6"/><circle cx="216.7" cy="765.4" r="8.6"/><circle cx="221.7" cy="766.3" r="8.6"/><circle cx="223.3" cy="764.7" r="8.6"/><circle cx="230.3" cy="767.9" r="8.6"/><circle cx="234.4" cy="767.1" r="8.6"/><circle cx="239.7" cy="767.5" r="8.6"/><circle cx="243.3" cy="765.9" r="8.6"/><circle cx="251.6" cy="765.1" r="8.6"/><circle cx="254.0" cy="764.1" r="8.6"/><circle cx="212.0" cy="769.9" r="8.6"/><circle cx="216.0" cy="769.4" r="8.6"/><circle cx="218.1" cy="769.5" r="8.6"/><circle cx="223.2" cy="771.0" r="8.6"/><circle cx="230.2" cy="769.7" r="8.6"/><circle cx="236.8" cy="770.5" r="8.6"/><circle cx="238.6" cy="769.7" r="8.6"/><circle cx="210.0" cy="774.9" r="8.6"/><circle cx="214.7" cy="774.4" r="8.6"/><circle cx="209.0" cy="632.0" r="8.6"/><circle cx="209.2" cy="636.0" r="8.6"/><circle cx="208.7" cy="640.0" r="8.6"/><circle cx="208.9" cy="644.0" r="8.6"/><circle cx="208.6" cy="648.0" r="8.6"/><circle cx="209.1" cy="652.0" r="8.6"/><circle cx="208.9" cy="656.0" r="8.6"/><circle cx="208.5" cy="660.0" r="8.6"/><circle cx="208.4" cy="664.0" r="8.6"/><circle cx="209.0" cy="668.0" r="8.6"/><circle cx="208.4" cy="672.0" r="8.6"/><circle cx="209.1" cy="676.0" r="8.6"/><circle cx="208.6" cy="680.0" r="8.6"/><circle cx="208.6" cy="684.0" r="8.6"/><circle cx="208.9" cy="688.0" r="8.6"/><circle cx="208.7" cy="692.0" r="8.6"/><circle cx="208.8" cy="696.0" r="8.6"/><circle cx="208.5" cy="700.0" r="8.6"/><circle cx="209.1" cy="704.0" r="8.6"/><circle cx="208.7" cy="708.0" r="8.6"/><circle cx="209.1" cy="712.0" r="8.6"/><circle cx="208.5" cy="716.0" r="8.6"/><circle cx="209.0" cy="720.0" r="8.6"/><circle cx="209.2" cy="724.0" r="8.6"/><circle cx="208.7" cy="728.0" r="8.6"/><circle cx="208.4" cy="732.0" r="8.6"/><circle cx="208.7" cy="736.0" r="8.6"/><circle cx="208.9" cy="740.0" r="8.6"/><circle cx="208.6" cy="744.0" r="8.6"/><circle cx="208.8" cy="748.0" r="8.6"/><circle cx="208.5" cy="752.0" r="8.6"/><circle cx="208.8" cy="756.0" r="8.6"/><circle cx="209.0" cy="760.0" r="8.6"/><circle cx="208.7" cy="764.0" r="8.6"/><circle cx="208.9" cy="768.0" r="8.6"/><circle cx="208.5" cy="772.0" r="8.6"/><circle cx="209.1" cy="776.0" r="8.6"/><circle cx="208.5" cy="780.0" r="8.6"/><circle cx="209.1" cy="784.0" r="8.6"/><circle cx="209.2" cy="788.0" r="8.6"/><circle cx="209.2" cy="792.0" r="8.6"/><circle cx="208.8" cy="796.0" r="8.6"/><circle cx="208.6" cy="800.0" r="8.6"/><circle cx="208.7" cy="804.0" r="8.6"/><circle cx="209.0" cy="808.0" r="8.6"/><circle cx="208.8" cy="812.0" r="8.6"/><circle cx="209.1" cy="816.0" r="8.6"/><circle cx="208.5" cy="820.0" r="8.6"/><circle cx="208.8" cy="824.0" r="8.6"/><circle cx="208.8" cy="826.2" r="8.6"/><circle cx="918.8" cy="600.8" r="8.6"/><circle cx="914.4" cy="613.4" r="8.6"/><circle cx="893.8" cy="612.1" r="8.6"/><circle cx="898.8" cy="629.6" r="8.6"/><circle cx="920.4" cy="647.8" r="8.6"/><circle cx="920.4" cy="674.1" r="8.6"/><circle cx="238.2" cy="536.6" r="8.6"/><circle cx="276.2" cy="562.6" r="8.6"/><circle cx="305.6" cy="556.0" r="8.6"/><circle cx="326.9" cy="558.0" r="8.6"/><circle cx="416.4" cy="536.1" r="8.6"/><circle cx="377.1" cy="578.0" r="8.6"/><circle cx="328.4" cy="593.7" r="8.6"/><circle cx="331.5" cy="600.2" r="8.6"/><circle cx="349.7" cy="605.8" r="8.6"/><circle cx="326.5" cy="610.2" r="8.6"/><circle cx="342.8" cy="610.9" r="8.6"/><circle cx="227.2" cy="611.2" r="8.6"/><circle cx="292.1" cy="613.4" r="8.6"/><circle cx="397.5" cy="609.0" r="8.6"/><circle cx="437.4" cy="598.7" r="8.6"/><circle cx="424.8" cy="611.5" r="8.6"/><circle cx="227.2" cy="611.3" r="8.6"/><circle cx="248.0" cy="620.0" r="8.6"/><circle cx="217.6" cy="623.8" r="8.6"/><circle cx="208.8" cy="632.6" r="8.6"/><circle cx="267.7" cy="627.6" r="8.6"/><circle cx="262.7" cy="635.1" r="8.6"/><circle cx="273.3" cy="636.3" r="8.6"/><circle cx="291.8" cy="613.1" r="8.6"/><circle cx="308.1" cy="620.3" r="8.6"/><circle cx="326.5" cy="610.6" r="8.6"/><circle cx="327.2" cy="620.7" r="8.6"/><circle cx="325.3" cy="634.4" r="8.6"/><circle cx="342.8" cy="611.3" r="8.6"/><circle cx="349.7" cy="606.3" r="8.6"/><circle cx="291.5" cy="638.8" r="8.6"/><circle cx="302.1" cy="636.3" r="8.6"/><circle cx="310.2" cy="650.1" r="8.6"/><circle cx="355.3" cy="626.9" r="8.6"/><circle cx="359.1" cy="632.6" r="8.6"/><circle cx="358.5" cy="643.8" r="8.6"/><circle cx="375.4" cy="618.2" r="8.6"/><circle cx="374.1" cy="625.0" r="8.6"/><circle cx="397.5" cy="609.4" r="8.6"/><circle cx="424.8" cy="611.9" r="8.6"/><circle cx="423.0" cy="620.0" r="8.6"/><circle cx="413.6" cy="628.8" r="8.6"/><circle cx="419.2" cy="632.6" r="8.6"/><circle cx="440.5" cy="613.8" r="8.6"/><circle cx="342.8" cy="648.2" r="8.6"/><circle cx="332.8" cy="652.6" r="8.6"/><circle cx="383.5" cy="647.6" r="8.6"/><circle cx="397.9" cy="650.1" r="8.6"/><circle cx="402.9" cy="653.9" r="8.6"/><circle cx="349.1" cy="658.9" r="8.6"/><circle cx="355.5" cy="660.1" r="8.6"/><circle cx="374.1" cy="661.4" r="8.6"/><circle cx="380.4" cy="665.1" r="8.6"/><circle cx="339.1" cy="672.6" r="8.6"/><circle cx="346.6" cy="675.1" r="8.6"/><circle cx="351.6" cy="678.9" r="8.6"/><circle cx="321.5" cy="662.6" r="8.6"/><circle cx="439.2" cy="653.9" r="8.6"/><circle cx="440.5" cy="661.4" r="8.6"/><circle cx="425.5" cy="661.4" r="8.6"/><circle cx="417.9" cy="666.4" r="8.6"/><circle cx="332.8" cy="688.9" r="8.6"/><circle cx="342.8" cy="691.4" r="8.6"/><circle cx="363.5" cy="700.2" r="8.6"/><circle cx="375.4" cy="686.4" r="8.6"/><circle cx="380.4" cy="681.4" r="8.6"/><circle cx="392.8" cy="670.3" r="8.6"/><circle cx="399.2" cy="680.2" r="8.6"/><circle cx="416.1" cy="686.2" r="8.6"/><circle cx="418.9" cy="690.7" r="8.6"/><circle cx="436.7" cy="680.2" r="8.6"/><circle cx="440.5" cy="687.7" r="8.6"/><circle cx="436.7" cy="700.2" r="8.6"/><circle cx="425.5" cy="716.5" r="8.6"/><circle cx="392.9" cy="712.7" r="8.6"/><circle cx="397.2" cy="728.2" r="8.6"/><circle cx="367.9" cy="672.6" r="8.6"/><circle cx="386.6" cy="675.1" r="8.6"/><circle cx="405.4" cy="665.1" r="8.6"/><circle cx="366.8" cy="690.1" r="8.6"/><circle cx="382.9" cy="695.2" r="8.6"/><circle cx="402.6" cy="697.7" r="8.6"/><circle cx="418.2" cy="704.3" r="8.6"/><circle cx="349.1" cy="702.7" r="8.6"/><circle cx="336.5" cy="702.7" r="8.6"/><circle cx="327.8" cy="697.7" r="8.6"/><circle cx="374.1" cy="706.5" r="8.6"/><circle cx="386.6" cy="705.2" r="8.6"/><circle cx="430.5" cy="670.1" r="8.6"/><circle cx="424.2" cy="676.4" r="8.6"/><circle cx="226.3" cy="775.1" r="8.6"/><circle cx="236.4" cy="772.6" r="8.6"/><circle cx="245.1" cy="768.8" r="8.6"/><circle cx="255.1" cy="763.8" r="8.6"/><circle cx="262.7" cy="760.1" r="8.6"/><circle cx="271.4" cy="752.6" r="8.6"/><circle cx="275.2" cy="746.3" r="8.6"/><circle cx="282.7" cy="741.3" r="8.6"/><circle cx="282.4" cy="777.6" r="8.6"/><circle cx="292.7" cy="746.3" r="8.6"/><circle cx="299.0" cy="750.1" r="8.6"/><circle cx="309.6" cy="758.2" r="8.6"/><circle cx="321.5" cy="751.3" r="8.6"/><circle cx="332.2" cy="751.3" r="8.6"/><circle cx="348.4" cy="756.9" r="8.6"/><circle cx="361.6" cy="754.4" r="8.6"/><circle cx="367.9" cy="748.8" r="8.6"/><circle cx="386.6" cy="743.2" r="8.6"/><circle cx="398.5" cy="757.6" r="8.6"/><circle cx="412.3" cy="747.6" r="8.6"/><circle cx="415.4" cy="740.0" r="8.6"/><circle cx="436.7" cy="743.8" r="8.6"/><circle cx="377.9" cy="742.5" r="8.6"/><circle cx="425.5" cy="732.5" r="8.6"/><circle cx="430.5" cy="727.5" r="8.6"/><circle cx="590.9" cy="519.4" r="8.6"/><circle cx="617.6" cy="540.7" r="8.6"/><circle cx="477.6" cy="578.3" r="8.6"/><circle cx="635.4" cy="580.2" r="8.6"/><circle cx="662.3" cy="590.2" r="8.6"/><circle cx="460.0" cy="590.2" r="8.6"/><circle cx="459.4" cy="596.5" r="8.6"/><circle cx="459.4" cy="604.0" r="8.6"/><circle cx="485.1" cy="607.1" r="8.6"/><circle cx="515.8" cy="594.9" r="8.6"/><circle cx="520.8" cy="600.2" r="8.6"/><circle cx="515.1" cy="608.3" r="8.6"/><circle cx="529.5" cy="614.0" r="8.6"/><circle cx="563.1" cy="614.4" r="8.6"/><circle cx="651.4" cy="612.7" r="8.6"/><circle cx="442.5" cy="614.0" r="8.6"/><circle cx="457.5" cy="620.7" r="8.6"/><circle cx="495.1" cy="623.8" r="8.6"/><circle cx="498.9" cy="623.2" r="8.6"/><circle cx="502.6" cy="630.7" r="8.6"/><circle cx="591.5" cy="625.7" r="8.6"/><circle cx="590.3" cy="630.1" r="8.6"/><circle cx="655.4" cy="626.3" r="8.6"/><circle cx="471.3" cy="641.3" r="8.6"/><circle cx="471.3" cy="648.2" r="8.6"/><circle cx="526.4" cy="639.4" r="8.6"/><circle cx="523.9" cy="646.3" r="8.6"/><circle cx="521.4" cy="653.9" r="8.6"/><circle cx="508.3" cy="657.0" r="8.6"/><circle cx="543.3" cy="643.2" r="8.6"/><circle cx="543.9" cy="648.2" r="8.6"/><circle cx="542.7" cy="651.3" r="8.6"/><circle cx="581.5" cy="658.9" r="8.6"/><circle cx="605.3" cy="662.6" r="8.6"/><circle cx="623.5" cy="657.6" r="8.6"/><circle cx="636.6" cy="656.4" r="8.6"/><circle cx="645.4" cy="648.2" r="8.6"/><circle cx="647.3" cy="667.0" r="8.6"/><circle cx="621.6" cy="671.4" r="8.6"/><circle cx="627.2" cy="670.8" r="8.6"/><circle cx="688.6" cy="646.3" r="8.6"/><circle cx="695.5" cy="647.6" r="8.6"/><circle cx="697.4" cy="665.7" r="8.6"/><circle cx="700.5" cy="674.5" r="8.6"/><circle cx="440.0" cy="653.9" r="8.6"/><circle cx="440.6" cy="661.4" r="8.6"/><circle cx="440.0" cy="680.2" r="8.6"/><circle cx="479.4" cy="669.5" r="8.6"/><circle cx="527.7" cy="669.5" r="8.6"/><circle cx="512.6" cy="675.8" r="8.6"/><circle cx="498.9" cy="682.0" r="8.6"/><circle cx="480.1" cy="687.7" r="8.6"/><circle cx="532.7" cy="682.7" r="8.6"/><circle cx="530.2" cy="686.4" r="8.6"/><circle cx="571.5" cy="672.6" r="8.6"/><circle cx="584.0" cy="673.9" r="8.6"/><circle cx="567.7" cy="678.9" r="8.6"/><circle cx="554.6" cy="688.3" r="8.6"/><circle cx="545.2" cy="692.7" r="8.6"/><circle cx="626.0" cy="692.0" r="8.6"/><circle cx="675.2" cy="682.0" r="8.6"/><circle cx="659.2" cy="699.6" r="8.6"/><circle cx="694.2" cy="704.6" r="8.6"/><circle cx="456.3" cy="698.9" r="8.6"/><circle cx="467.6" cy="697.1" r="8.6"/><circle cx="476.3" cy="701.4" r="8.6"/><circle cx="493.9" cy="700.2" r="8.6"/><circle cx="510.1" cy="696.4" r="8.6"/><circle cx="502.6" cy="707.7" r="8.6"/><circle cx="511.4" cy="710.2" r="8.6"/><circle cx="496.4" cy="711.5" r="8.6"/><circle cx="500.1" cy="720.2" r="8.6"/><circle cx="530.2" cy="700.2" r="8.6"/><circle cx="540.2" cy="707.7" r="8.6"/><circle cx="564.6" cy="719.0" r="8.6"/><circle cx="586.5" cy="705.2" r="8.6"/><circle cx="596.5" cy="704.6" r="8.6"/><circle cx="602.8" cy="700.2" r="8.6"/><circle cx="630.4" cy="712.7" r="8.6"/><circle cx="645.4" cy="715.2" r="8.6"/><circle cx="660.4" cy="717.1" r="8.6"/><circle cx="676.1" cy="713.3" r="8.6"/><circle cx="639.1" cy="725.2" r="8.6"/><circle cx="527.7" cy="727.7" r="8.6"/><circle cx="540.2" cy="725.2" r="8.6"/><circle cx="505.1" cy="735.1" r="8.6"/><circle cx="495.7" cy="742.6" r="8.6"/><circle cx="495.1" cy="747.6" r="8.6"/><circle cx="520.4" cy="743.0" r="8.6"/><circle cx="547.7" cy="731.3" r="8.6"/><circle cx="649.4" cy="755.1" r="8.6"/><circle cx="694.2" cy="750.1" r="8.6"/><circle cx="436.2" cy="743.8" r="8.6"/><circle cx="859.1" cy="490.4" r="8.6"/><circle cx="748.8" cy="531.7" r="8.6"/><circle cx="763.6" cy="534.2" r="8.6"/><circle cx="720.4" cy="568.3" r="8.6"/><circle cx="752.3" cy="575.6" r="8.6"/><circle cx="823.4" cy="574.6" r="8.6"/><circle cx="840.6" cy="570.8" r="8.6"/><circle cx="860.6" cy="558.3" r="8.6"/><circle cx="723.2" cy="629.4" r="8.6"/><circle cx="761.4" cy="625.4" r="8.6"/><circle cx="713.5" cy="643.2" r="8.6"/><circle cx="827.7" cy="627.3" r="8.6"/><circle cx="839.0" cy="627.6" r="8.6"/><circle cx="877.2" cy="606.9" r="8.6"/><circle cx="882.8" cy="610.0" r="8.6"/><circle cx="893.5" cy="613.2" r="8.6"/><circle cx="900.4" cy="618.2" r="8.6"/><circle cx="912.9" cy="614.4" r="8.6"/><circle cx="884.7" cy="628.2" r="8.6"/><circle cx="898.5" cy="630.7" r="8.6"/><circle cx="870.3" cy="635.7" r="8.6"/><circle cx="865.9" cy="654.5" r="8.6"/><circle cx="811.8" cy="656.4" r="8.6"/><circle cx="824.0" cy="667.6" r="8.6"/><circle cx="728.6" cy="657.6" r="8.6"/><circle cx="726.3" cy="667.6" r="8.6"/><circle cx="753.2" cy="671.4" r="8.6"/><circle cx="738.8" cy="675.8" r="8.6"/><circle cx="719.4" cy="676.4" r="8.6"/><circle cx="722.5" cy="687.7" r="8.6"/><circle cx="713.8" cy="690.8" r="8.6"/><circle cx="783.3" cy="677.7" r="8.6"/><circle cx="783.0" cy="697.1" r="8.6"/><circle cx="803.3" cy="695.8" r="8.6"/><circle cx="819.6" cy="700.8" r="8.6"/><circle cx="837.5" cy="696.5" r="8.6"/><circle cx="845.3" cy="709.0" r="8.6"/><circle cx="866.9" cy="693.9" r="8.6"/><circle cx="762.6" cy="710.2" r="8.6"/><circle cx="698.7" cy="647.6" r="8.6"/><circle cx="697.5" cy="665.1" r="8.6"/><circle cx="701.3" cy="675.2" r="8.6"/><circle cx="696.2" cy="704.0" r="8.6"/><circle cx="809.0" cy="721.5" r="8.6"/><circle cx="835.3" cy="721.5" r="8.6"/><circle cx="806.2" cy="738.6" r="8.6"/><circle cx="920.4" cy="674.0" r="8.6"/><circle cx="391.2" cy="669.5" r="8.6"/><circle cx="383.1" cy="682.3" r="8.6"/><circle cx="381.8" cy="692.8" r="8.6"/><circle cx="399.0" cy="693.2" r="8.6"/><circle cx="414.6" cy="687.1" r="8.6"/><circle cx="425.3" cy="680.9" r="8.6"/><circle cx="370.5" cy="691.1" r="8.6"/>
<circle cx="1098.5" cy="50.3" r="8.6"/><circle cx="1098.5" cy="92.9" r="8.6"/><circle cx="1098.1" cy="264.9" r="8.6"/><circle cx="1098.1" cy="280.4" r="8.6"/><circle cx="1098.3" cy="361.8" r="8.6"/><circle cx="1098.3" cy="374.3" r="8.6"/><circle cx="1084.9" cy="382.7" r="8.6"/><circle cx="1098.3" cy="404.6" r="8.6"/><circle cx="1098.3" cy="417.5" r="8.6"/><circle cx="1053.4" cy="409.4" r="8.6"/><circle cx="1034.6" cy="432.2" r="8.6"/><circle cx="1051.3" cy="437.6" r="8.6"/><circle cx="1098.3" cy="435.7" r="8.6"/><circle cx="1095.4" cy="441.3" r="8.6"/><circle cx="1098.3" cy="454.5" r="8.6"/><circle cx="935.7" cy="478.2" r="8.6"/><circle cx="975.8" cy="472.8" r="8.6"/><circle cx="959.9" cy="517.6" r="8.6"/><circle cx="1042.2" cy="458.8" r="8.6"/><circle cx="1066.6" cy="470.7" r="8.6"/><circle cx="1072.8" cy="466.3" r="8.6"/><circle cx="1080.4" cy="466.9" r="8.6"/><circle cx="1087.9" cy="468.2" r="8.6"/><circle cx="1091.6" cy="469.4" r="8.6"/><circle cx="1082.9" cy="487.3" r="8.6"/><circle cx="1097.3" cy="485.3" r="8.6"/><circle cx="1063.1" cy="505.7" r="8.6"/><circle cx="1094.4" cy="512.0" r="8.6"/><circle cx="1042.2" cy="530.4" r="8.6"/><circle cx="1067.2" cy="529.5" r="8.6"/><circle cx="1077.2" cy="539.6" r="8.6"/><circle cx="1090.4" cy="527.7" r="8.6"/><circle cx="1097.9" cy="527.7" r="8.6"/><circle cx="1092.9" cy="535.2" r="8.6"/><circle cx="1099.1" cy="538.9" r="8.6"/><circle cx="1090.4" cy="543.9" r="8.6"/><circle cx="1096.6" cy="546.5" r="8.6"/><circle cx="1091.6" cy="552.7" r="8.6"/><circle cx="1096.0" cy="557.1" r="8.6"/><circle cx="1061.8" cy="555.2" r="8.6"/><circle cx="1012.1" cy="557.7" r="8.6"/><circle cx="1014.6" cy="559.6" r="8.6"/><circle cx="1030.3" cy="562.1" r="8.6"/><circle cx="1032.1" cy="564.6" r="8.6"/><circle cx="962.6" cy="592.7" r="8.6"/><circle cx="937.3" cy="608.0" r="8.6"/><circle cx="985.8" cy="621.3" r="8.6"/><circle cx="1029.6" cy="582.7" r="8.6"/><circle cx="1077.0" cy="575.2" r="8.6"/><circle cx="1093.5" cy="586.8" r="8.6"/><circle cx="1097.3" cy="601.7" r="8.6"/><circle cx="1044.7" cy="600.8" r="8.6"/><circle cx="1013.4" cy="614.0" r="8.6"/><circle cx="1020.9" cy="615.9" r="8.6"/><circle cx="1041.5" cy="612.7" r="8.6"/><circle cx="1056.6" cy="613.4" r="8.6"/><circle cx="1054.1" cy="621.5" r="8.6"/><circle cx="1034.0" cy="627.1" r="8.6"/><circle cx="1072.2" cy="624.6" r="8.6"/><circle cx="1091.6" cy="614.6" r="8.6"/><circle cx="1098.5" cy="620.9" r="8.6"/><circle cx="1090.4" cy="629.6" r="8.6"/><circle cx="1043.4" cy="639.0" r="8.6"/><circle cx="1040.9" cy="651.6" r="8.6"/><circle cx="1074.1" cy="640.3" r="8.6"/><circle cx="1086.6" cy="639.0" r="8.6"/><circle cx="945.1" cy="655.3" r="8.6"/><circle cx="928.8" cy="661.6" r="8.6"/><circle cx="957.0" cy="677.2" r="8.6"/><circle cx="1034.0" cy="674.7" r="8.6"/><circle cx="957.3" cy="696.9" r="8.6"/><circle cx="1094.1" cy="530.2" r="8.6"/><circle cx="1095.4" cy="535.2" r="8.6"/><circle cx="1091.6" cy="537.7" r="8.6"/><circle cx="1096.6" cy="541.4" r="8.6"/><circle cx="1093.5" cy="544.0" r="8.6"/><circle cx="1063.0" cy="762.1" r="8.6"/>
</g>
<g stroke="#dd2c22" stroke-width="1.9" fill="none" stroke-dasharray="13.2 9.69">
<path d="M171.9 701.2H1124"/>
<path d="M920.6 21.3V856"/>
</g>
<g fill="none" stroke="#90ee90" stroke-width="3.4">
<circle cx="1098.5" cy="50.3" r="8"/><circle cx="1098.5" cy="92.9" r="8"/><circle cx="1098.1" cy="264.9" r="8"/><circle cx="1098.1" cy="280.4" r="8"/><circle cx="1098.3" cy="361.8" r="8"/><circle cx="1098.3" cy="374.3" r="8"/><circle cx="1084.9" cy="382.7" r="8"/><circle cx="1098.3" cy="404.6" r="8"/><circle cx="1098.3" cy="417.5" r="8"/><circle cx="1053.4" cy="409.4" r="8"/><circle cx="1034.6" cy="432.2" r="8"/><circle cx="1051.3" cy="437.6" r="8"/><circle cx="1098.3" cy="435.7" r="8"/><circle cx="1095.4" cy="441.3" r="8"/><circle cx="1098.3" cy="454.5" r="8"/><circle cx="935.7" cy="478.2" r="8"/><circle cx="975.8" cy="472.8" r="8"/><circle cx="959.9" cy="517.6" r="8"/><circle cx="1042.2" cy="458.8" r="8"/><circle cx="1066.6" cy="470.7" r="8"/><circle cx="1072.8" cy="466.3" r="8"/><circle cx="1080.4" cy="466.9" r="8"/><circle cx="1087.9" cy="468.2" r="8"/><circle cx="1091.6" cy="469.4" r="8"/><circle cx="1082.9" cy="487.3" r="8"/><circle cx="1097.3" cy="485.3" r="8"/><circle cx="1063.1" cy="505.7" r="8"/><circle cx="1094.4" cy="512.0" r="8"/><circle cx="1042.2" cy="530.4" r="8"/><circle cx="1067.2" cy="529.5" r="8"/><circle cx="1077.2" cy="539.6" r="8"/><circle cx="1090.4" cy="527.7" r="8"/><circle cx="1097.9" cy="527.7" r="8"/><circle cx="1092.9" cy="535.2" r="8"/><circle cx="1099.1" cy="538.9" r="8"/><circle cx="1090.4" cy="543.9" r="8"/><circle cx="1096.6" cy="546.5" r="8"/><circle cx="1091.6" cy="552.7" r="8"/><circle cx="1096.0" cy="557.1" r="8"/><circle cx="1061.8" cy="555.2" r="8"/><circle cx="1012.1" cy="557.7" r="8"/><circle cx="1014.6" cy="559.6" r="8"/><circle cx="1030.3" cy="562.1" r="8"/><circle cx="1032.1" cy="564.6" r="8"/><circle cx="962.6" cy="592.7" r="8"/><circle cx="937.3" cy="608.0" r="8"/><circle cx="985.8" cy="621.3" r="8"/><circle cx="1029.6" cy="582.7" r="8"/><circle cx="1077.0" cy="575.2" r="8"/><circle cx="1093.5" cy="586.8" r="8"/><circle cx="1097.3" cy="601.7" r="8"/><circle cx="1044.7" cy="600.8" r="8"/><circle cx="1013.4" cy="614.0" r="8"/><circle cx="1020.9" cy="615.9" r="8"/><circle cx="1041.5" cy="612.7" r="8"/><circle cx="1056.6" cy="613.4" r="8"/><circle cx="1054.1" cy="621.5" r="8"/><circle cx="1034.0" cy="627.1" r="8"/><circle cx="1072.2" cy="624.6" r="8"/><circle cx="1091.6" cy="614.6" r="8"/><circle cx="1098.5" cy="620.9" r="8"/><circle cx="1090.4" cy="629.6" r="8"/><circle cx="1043.4" cy="639.0" r="8"/><circle cx="1040.9" cy="651.6" r="8"/><circle cx="1074.1" cy="640.3" r="8"/><circle cx="1086.6" cy="639.0" r="8"/><circle cx="945.1" cy="655.3" r="8"/><circle cx="928.8" cy="661.6" r="8"/><circle cx="957.0" cy="677.2" r="8"/><circle cx="1034.0" cy="674.7" r="8"/><circle cx="957.3" cy="696.9" r="8"/><circle cx="1094.1" cy="530.2" r="8"/><circle cx="1095.4" cy="535.2" r="8"/><circle cx="1091.6" cy="537.7" r="8"/><circle cx="1096.6" cy="541.4" r="8"/><circle cx="1093.5" cy="544.0" r="8"/>
</g>
<g fill="none" stroke="#f4705a" stroke-width="6.2">
<circle cx="1063.0" cy="762.1" r="7.8"/>
</g>
</g>
<g id="panel-b">
<g fill="#03178c">
<rect x="1410.4" y="576.0" width="82.7" height="191.9"/>
<rect x="1512.7" y="319.9" width="82.7" height="448.0"/>
<rect x="1615.0" y="243.5" width="82.7" height="524.4"/>
<rect x="1717.3" y="180.1" width="82.7" height="587.8"/>
<rect x="1819.6" y="204.9" width="82.7" height="563.0"/>
<rect x="1921.9" y="197.4" width="82.7" height="570.5"/>
<rect x="2024.2" y="199.6" width="82.7" height="568.3"/>
</g>
<g stroke="#000" stroke-width="2.2" fill="none" stroke-linecap="butt" stroke-linejoin="miter">
<path d="M1360 237.5H1381.4V768.3H1360"/>
<path d="M1360 591.1H1381.4"/>
<path d="M1360 414.3H1381.4"/>
</g>
<g stroke="#f0735f" stroke-width="4" stroke-linecap="round" fill="none">
<path d="M1451.8 465.4V685.0M1441.5 465.4H1462.0M1441.5 685.0H1462.0"/>
<path d="M1554.0 266.8V370.7M1543.8 266.8H1564.3M1543.8 370.7H1564.3"/>
<path d="M1656.3 198.9V285.8M1646.0 198.9H1666.6M1646.0 285.8H1666.6"/>
<path d="M1758.7 150.0V207.9M1748.4 150.0H1769.0M1748.4 207.9H1769.0"/>
<path d="M1861.0 173.1V234.0M1850.7 173.1H1871.2M1850.7 234.0H1871.2"/>
<path d="M1963.2 165.6V226.7M1953.0 165.6H1973.5M1953.0 226.7H1973.5"/>
<path d="M2065.6 166.6V229.7M2055.2 166.6H2075.9M2055.2 229.7H2075.9"/>
</g>
<g stroke="#daa520" stroke-width="4" stroke-linecap="round" fill="none">
<path d="M1409.3 476.7H1494.2"/>
<path d="M1511.6 285.1H1596.5"/>
<path d="M1613.9 238.0H1698.8"/>
<path d="M1716.2 207.9H1801.1"/>
<path d="M1818.5 191.1H1903.4"/>
<path d="M1920.8 190.9H2005.7"/>
<path d="M2023.2 188.9H2108.0"/>
</g>
<rect x="1424.3" y="92.9" width="22.5" height="17.8" fill="#03178c"/>
<rect x="1424.3" y="134.3" width="22.5" height="17.6" fill="#daa520"/>
<text transform="translate(1478.4 114.0) scale(1.000 1.040)" font-size="34.20">Observed</text>
<text transform="translate(1477.4 155.3) scale(1.000 1.040)" font-size="34.20">Expected</text>
<g font-size="34.5" text-anchor="middle">
<text transform="translate(1332.3 767.9) rotate(-90) scale(1.000 1.040)">50%</text>
<text transform="translate(1332.3 591.1) rotate(-90) scale(1.000 1.040)">60%</text>
<text transform="translate(1332.3 414.3) rotate(-90) scale(1.000 1.040)">70%</text>
<text transform="translate(1332.3 237.5) rotate(-90) scale(1.000 1.040)">80%</text>
</g>
<g font-size="34.5" text-anchor="end">
<text transform="translate(1463.0 795.0) rotate(-90) scale(1.000 1.040)">&lt;%1</text>
<text transform="translate(1565.2 795.0) rotate(-90) scale(1.000 1.040)">(1%-5%)</text>
<text transform="translate(1667.5 795.0) rotate(-90) scale(1.000 1.040)">(5%-10%)</text>
<text transform="translate(1769.9 795.0) rotate(-90) scale(1.000 1.040)">(10%-20%)</text>
<text transform="translate(1872.2 795.0) rotate(-90) scale(1.000 1.040)">(20%-30%)</text>
<text transform="translate(1974.5 795.0) rotate(-90) scale(1.000 1.040)">(30%-40%)</text>
<text transform="translate(2076.8 795.0) rotate(-90) scale(1.000 1.040)">(40%-50%)</text>
</g>
<g font-size="34.3" text-anchor="middle">
<text transform="translate(1208.2 459.2) rotate(-90) scale(1.000 1.040)">Proportion of SNPs with sign-consistent effect</text>
<text transform="translate(1250.0 458.9) rotate(-90) scale(1.000 1.040)">sizes between discovery and replication</text>
</g>
<text transform="translate(1758.0 1013.4) scale(1.000 1.040)" font-size="34.34" text-anchor="middle">MAF range in Estonian Biobank (EBB)</text>
<text transform="translate(1371.2 53.1) scale(1.000 1.000)" font-size="68.60" font-weight="bold">b</text>
</g>
</svg></body></html>
